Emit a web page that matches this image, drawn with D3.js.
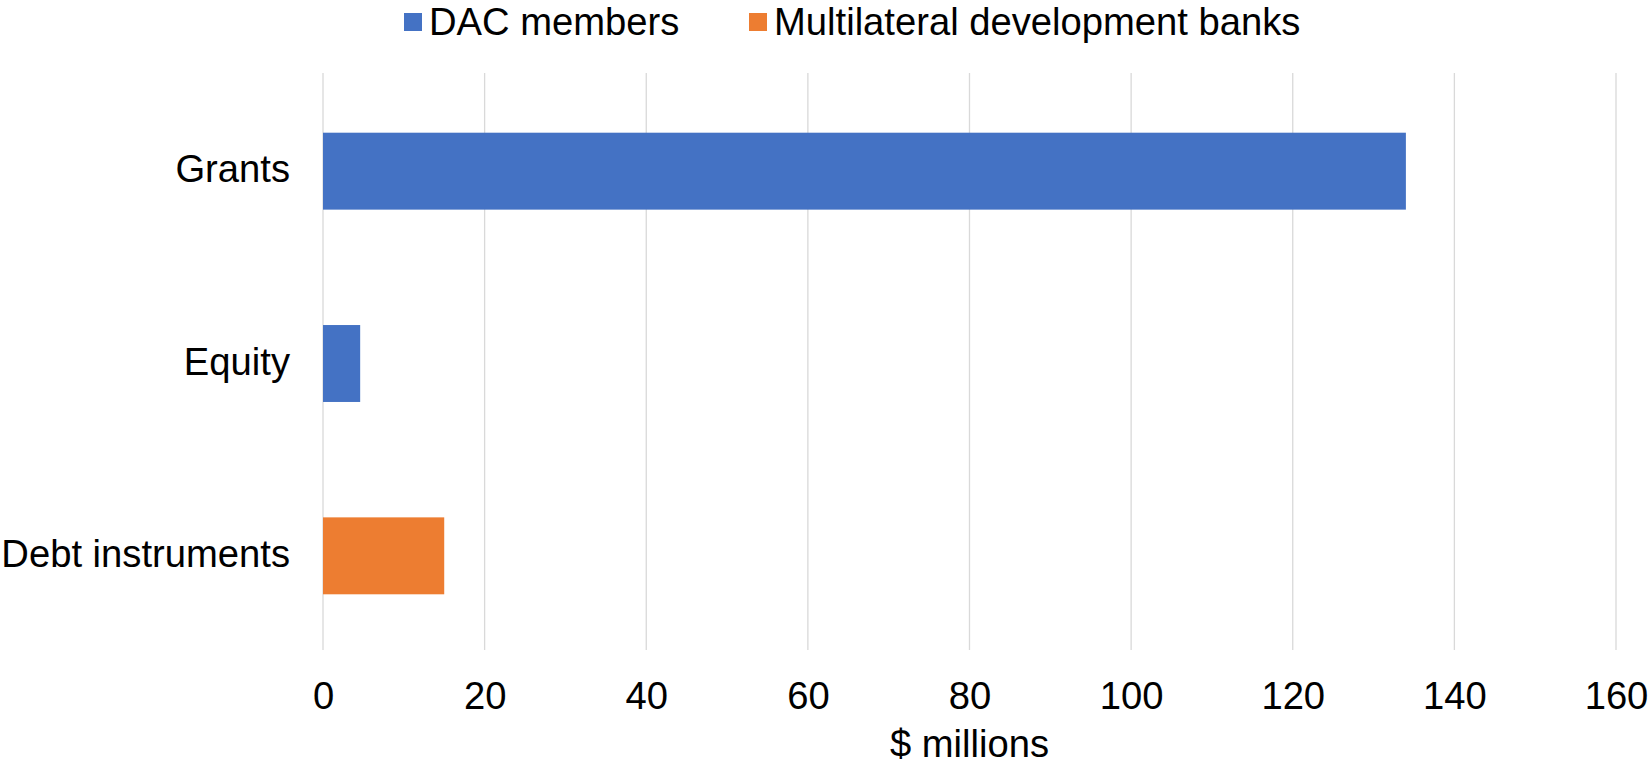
<!DOCTYPE html>
<html>
<head>
<meta charset="utf-8">
<script src="https://cdn.jsdelivr.net/npm/d3@7"></script>
<style>
  html, body { margin: 0; padding: 0; background: #fff; }
  svg { display: block; font-family: "Liberation Sans", Arial, sans-serif; }
</style>
</head>
<body>
<svg id="chart" width="1650" height="767"></svg>
<script>
// Financing by instrument, $ millions
const categories = ["Grants", "Equity", "Debt instruments"];
const seriesNames = ["DAC members", "Multilateral development banks"];
const dacValues = [134, 4.6, null];
const mdbValues = [null, null, 15];
const xTicks = [0, 20, 40, 60, 80, 100, 120, 140, 160];
const axisTitle = "$ millions";

const colors = { "DAC members": "#4472C4", "Multilateral development banks": "#ED7D31" };

const W = 1650, H = 767;
const margin = { top: 73, right: 34, bottom: 117, left: 323 };
const fontSize = 38.2;

const svg = d3.select("#chart");

const x = d3.scaleLinear().domain([0, 160]).range([margin.left, W - margin.right]);
const y = d3.scaleBand().domain(categories).range([margin.top + 2, H - margin.bottom + 2]).paddingInner(0.6).paddingOuter(0.3);

// Vertical gridlines
svg.append("g").selectAll("line").data(xTicks).join("line")
  .attr("x1", d => x(d)).attr("x2", d => x(d))
  .attr("y1", margin.top).attr("y2", H - margin.bottom)
  .attr("stroke", "#d9d9d9").attr("stroke-width", 1.3);

// Bars: each category carries one non-empty series value
const rows = [];
categories.forEach((c, i) => {
  if (dacValues[i] != null) rows.push({ cat: c, series: seriesNames[0], value: dacValues[i] });
  if (mdbValues[i] != null) rows.push({ cat: c, series: seriesNames[1], value: mdbValues[i] });
});

svg.append("g").selectAll("rect").data(rows).join("rect")
  .attr("x", x(0))
  .attr("y", d => y(d.cat))
  .attr("width", d => x(d.value) - x(0))
  .attr("height", y.bandwidth())
  .attr("fill", d => colors[d.series]);

// Category labels
svg.append("g").selectAll("text").data(categories).join("text")
  .attr("x", margin.left - 33)
  .attr("y", d => y(d) + y.bandwidth() / 2 + 11)
  .attr("text-anchor", "end")
  .attr("font-size", fontSize)
  .attr("fill", "#000")
  .text(d => d);

// X axis tick labels
const xAxis = d3.axisBottom(x).tickValues(xTicks).tickSize(0).tickPadding(32);
const gx = svg.append("g").attr("transform", `translate(0,${H - margin.bottom})`).call(xAxis);
gx.select(".domain").remove();
gx.selectAll("text").attr("font-size", fontSize).attr("font-family", "Liberation Sans, Arial, sans-serif").attr("fill", "#000");

// Axis title
svg.append("text")
  .attr("x", (x(0) + x(160)) / 2)
  .attr("y", 757)
  .attr("text-anchor", "middle")
  .attr("font-size", fontSize)
  .attr("fill", "#000")
  .text(axisTitle);

// Legend
const legendX = [404, 749];
const legend = svg.append("g");
seriesNames.forEach((name, i) => {
  legend.append("rect").attr("x", legendX[i]).attr("y", 13).attr("width", 18).attr("height", 18).attr("fill", colors[name]);
  legend.append("text").attr("x", legendX[i] + 25).attr("y", 35)
    .attr("font-size", fontSize).attr("fill", "#000").text(name);
});
</script>
</body>
</html>
